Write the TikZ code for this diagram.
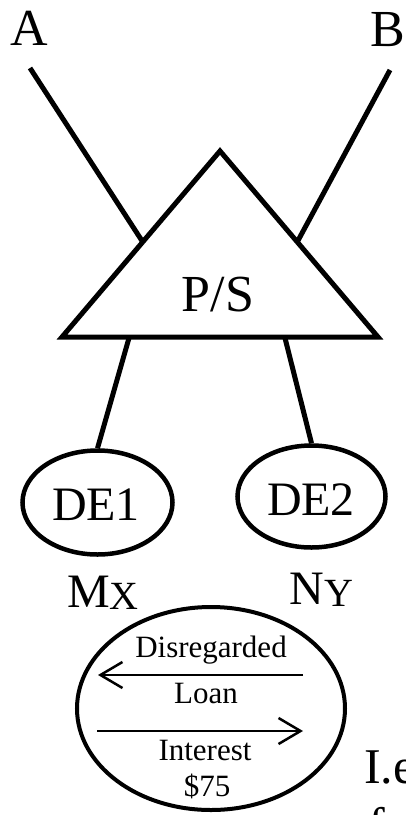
\documentclass[tikz,border=0pt]{standalone}
\usepackage{fontspec}
\setmainfont{Liberation Serif}
\usetikzlibrary{arrows.meta,shapes.geometric,calc}
\tikzset{
  thick5/.style={line width=5pt},
  ent/.style={draw,ellipse,line width=4.5pt,inner sep=0pt},
  big/.style={font=\fontsize{52}{52}\selectfont,inner sep=0pt,anchor=base},
  mid/.style={font=\fontsize{48}{48}\selectfont,inner sep=0pt,anchor=base},
  small/.style={font=\fontsize{31}{31}\selectfont,inner sep=0pt,anchor=base},
  flow/.style={line width=2.5pt,-{Straight Barb[length=22pt,width=26pt,line width=2.5pt]}}
}
\begin{document}
\begin{tikzpicture}[x=1pt,y=-1pt]
\useasboundingbox (0,0) rectangle (406,815);
\clip (0,0) rectangle (406,815);
% labels
\node[big] (A) at (29,45) {A};
\node[big] (B) at (388,46) {B};
% triangle
\coordinate (apex) at (220,151);
\coordinate (tl) at (62,337);
\coordinate (tr) at (378,337);
\draw[thick5,line join=miter] (apex) -- (tl) -- (tr) -- cycle;
\node[big] (ps) at (218,311) {P/S};
% owner lines
\coordinate (atop) at (30,68);
\coordinate (btop) at (390,70);
\coordinate (aend) at ($(apex)!0.489!(tl)$);
\coordinate (bend) at ($(apex)!0.489!(tr)$);
\draw[thick5] (atop) -- (aend);
\draw[thick5] (btop) -- (bend);
% DEs
\node[ent,minimum width=150pt,minimum height=104pt] (de1) at (97.5,502.5) {};
\node[ent,minimum width=148pt,minimum height=102pt] (de2) at (311.5,496.5) {};
\node[mid] (de1t) at (96,520) {DE1};
\node[mid] (de2t) at (311,515) {DE2};
\coordinate (b1) at (129,338);
\coordinate (b2) at (285,338);
\draw[thick5] (b1) -- (de1.north);
\draw[thick5] (b2) -- (de2.north);
% M_X, N_Y
\node[mid] (mx) at (103,607) {M\raisebox{-2pt}{\fontsize{40}{40}\selectfont X}};
\node[mid] (ny) at (321.5,604) {N\raisebox{-2pt}{\fontsize{40}{40}\selectfont Y}};
% loan ellipse
\node[draw,ellipse,line width=4pt,minimum width=268pt,minimum height=203pt,inner sep=0pt] (loan) at (211,708.5) {};
\node[small] (dis) at (211,657.5) {Disregarded};
\coordinate (l1s) at (303,675);
\coordinate (l1e) at (98,675);
\draw[flow] (l1s) -- (l1e);
\node[small] (ln) at (206,703) {Loan};
\coordinate (l2s) at (97,731);
\coordinate (l2e) at (303,731);
\draw[flow] (l2s) -- (l2e);
\node[small] (int) at (205,760) {Interest};
\node[small] (amt) at (207,796) {\$75};
% cut-off text (cut at the edge as in the reference)
\node[font=\fontsize{50}{50}\selectfont,inner sep=0pt,anchor=base west] (ie) at (364,783) {I.e};
\node[font=\fontsize{50}{50}\selectfont,inner sep=0pt,anchor=base west] (f2) at (368,842) {f};
\end{tikzpicture}
\end{document}
